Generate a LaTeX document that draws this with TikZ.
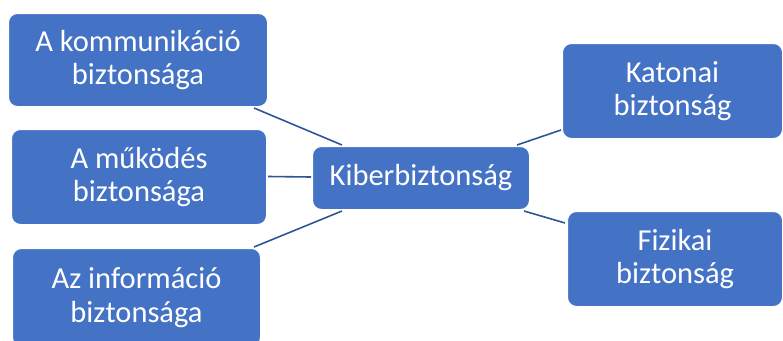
\documentclass[tikz,border=0pt]{standalone}
\usepackage{fontspec}
\setmainfont{Carlito}
\usetikzlibrary{calc}
\definecolor{boxblue}{HTML}{4472C4}
\definecolor{linkblue}{HTML}{2F5597}
\begin{document}
\begin{tikzpicture}[x=1pt,y=-1pt,
  box/.style={draw=white,line width=1pt,fill=boxblue,rounded corners=9pt,
    text=white,align=center,anchor=north west,inner sep=0pt,
    font=\fontsize{30.5}{33.5}\selectfont},
  link/.style={draw=linkblue,line width=1.6pt}]
\useasboundingbox (0,0) rectangle (783,340);
\node[box,minimum width=259pt,minimum height=93pt] (kom) at (8,13) {A kommunikáció\\biztonsága};
\node[box,minimum width=255pt,minimum height=95pt] (muk) at (11,129) {A működés\\biztonsága};
\node[box,minimum width=248pt,minimum height=98pt] (inf) at (12,248) {Az információ\\biztonsága};
\node[box,minimum width=217pt,minimum height=63pt] (kib) at (312,146) {Kiberbiztonság};
\node[box,minimum width=220pt,minimum height=95pt] (kat) at (562,43) {Katonai\\biztonság};
\node[box,minimum width=215pt,minimum height=95pt] (fiz) at (567,211) {Fizikai\\biztonság};
\draw[link] ($(kom.south east)+(-14,1)$) -- ($(kib.north west)+(30,-1)$);
\draw[link] ($(muk.east)+(1,-0.5)$) -- ($(kib.west)+(-1,-1)$);
\draw[link] ($(inf.north east)+(-7,-1)$) -- ($(kib.south west)+(30,1)$);
\draw[link] ($(kib.north east)+(-13,-1)$) -- ($(kat.south west)+(-1,-9)$);
\draw[link] ($(kib.south east)+(-6,1)$) -- ($(fiz.north west)+(-2,12)$);
\end{tikzpicture}
\end{document}
